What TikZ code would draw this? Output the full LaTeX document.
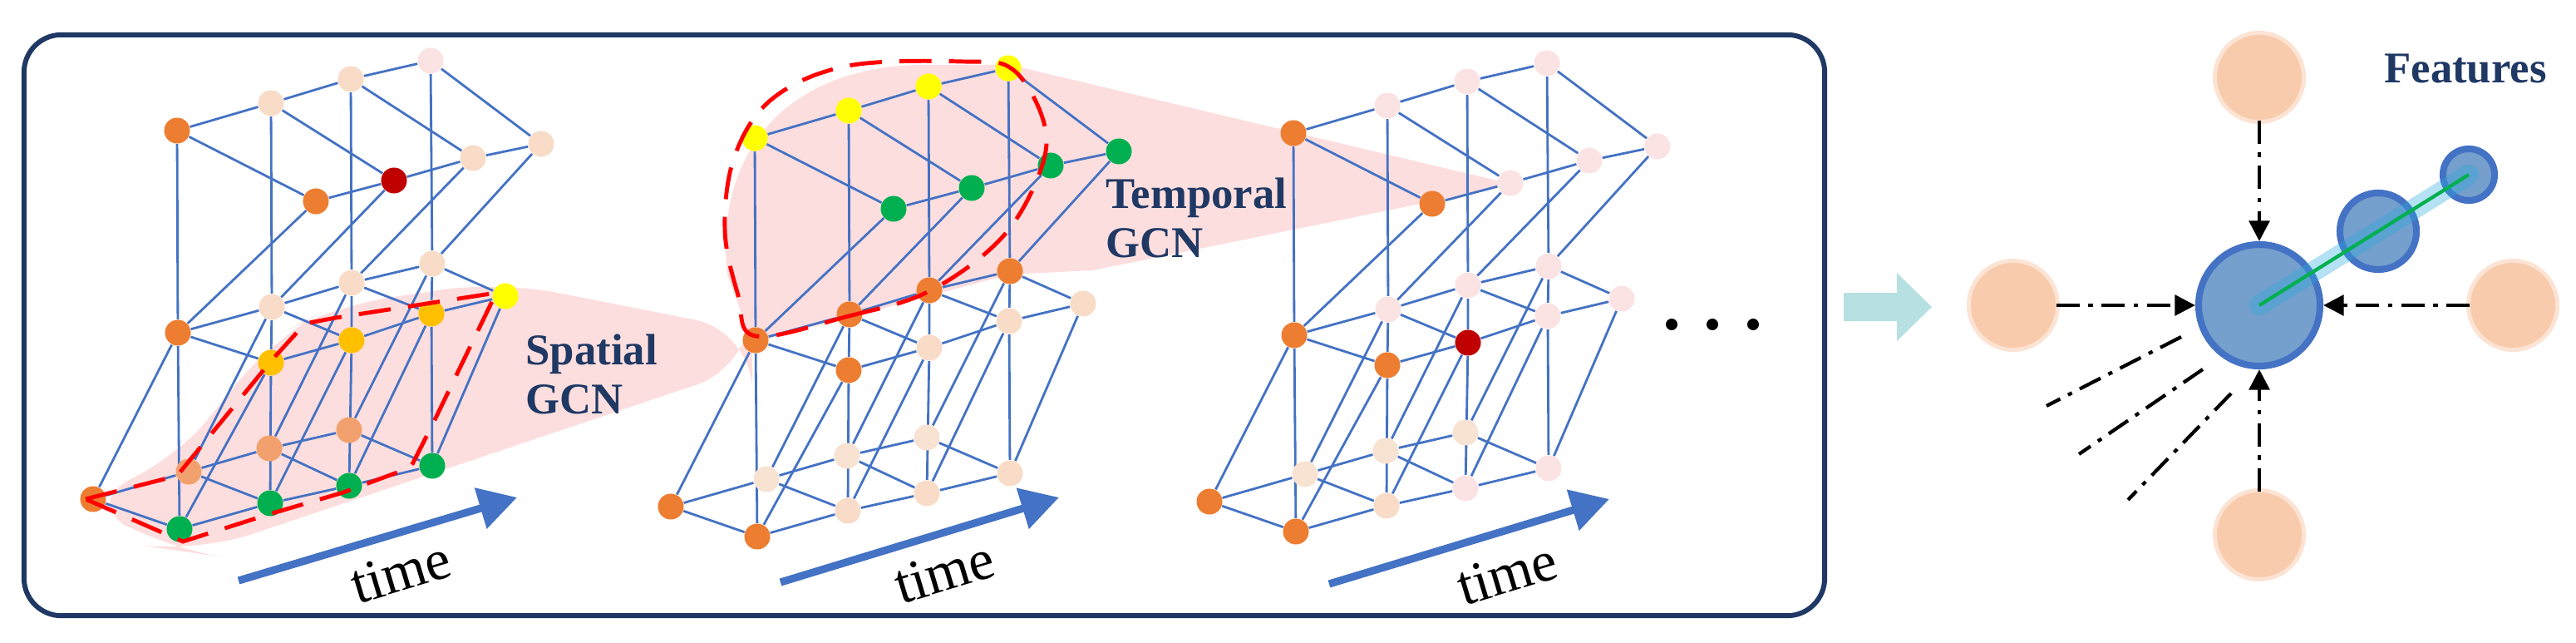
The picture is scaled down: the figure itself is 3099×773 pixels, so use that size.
\documentclass[tikz,border=0pt]{standalone}
\usepackage{fontspec}
\setmainfont{Liberation Serif}[BoldFont={Liberation Serif Bold}]
\usetikzlibrary{arrows.meta,backgrounds}
\definecolor{co}{HTML}{ED7D31}
\definecolor{cp}{HTML}{F8DCC8}
\definecolor{ck}{HTML}{FBE3E3}
\definecolor{cr}{HTML}{C00000}
\definecolor{cy}{HTML}{FFFF00}
\definecolor{cg}{HTML}{FFC000}
\definecolor{cG}{HTML}{00B050}
\definecolor{cf}{HTML}{F2A16E}
\definecolor{cq}{HTML}{F8E2D2}
\definecolor{edge}{HTML}{4472C4}
\definecolor{navy}{HTML}{1F3864}
\definecolor{pinkbg}{HTML}{FDDEDE}
\definecolor{peachc}{HTML}{F8CBAD}
\definecolor{peachglow}{HTML}{FCE3D3}
\definecolor{bluefill}{HTML}{759FCC}
\definecolor{cyanarr}{HTML}{B7E0E2}
\tikzset{
  nd/.style={circle,inner sep=0pt,minimum size=0.31cm,draw=none},
  ed/.style={draw=edge,line width=0.8pt},
  rdash/.style={draw=red,line width=1.4pt,dash pattern=on 11pt off 6pt},
  timearr/.style={draw=edge,line width=2.6pt,-{Triangle[length=13pt,width=14pt]}},
  lab/.style={font=\bfseries\fontsize{15}{17}\selectfont,text=navy,align=left,anchor=west},
  tlab/.style={font=\fontsize{19.5}{22}\selectfont,rotate=16.7},
  feat/.style={circle,fill=peachc,inner sep=0pt,minimum size=1.02cm},
  glow/.style={circle,fill=peachglow,inner sep=0pt,minimum size=1.12cm},
  fa/.style={draw=black,line width=1.2pt,dash pattern=on 8pt off 3pt on 1.5pt off 3pt,-{Triangle[length=7pt,width=7pt]}},
  fl/.style={draw=black,line width=1.2pt,dash pattern=on 8pt off 3pt on 1.5pt off 3pt},
}
\newcommand{\stgraph}[4]{%
  \foreach \n/\x/\y [count=\i from 0] in {tB1/213/157,tB2/326/124,tB3/422/95,tB4/518/73,
     tF1/380/242,tF2/474/217,tF3/569/190,tF4/651/173,
     mB1/214/400,mB2/327/369,mB3/423/340,mB4/520/317,
     mF1/326/436,mF2/423/409,mF3/519/377,mF4/608/356,
     bB1/112/600,bB2/227/567,bB3/324/539,bB4/420/517,
     bF1/216/636,bF2/325/605,bF3/420/584,bF4/520/560}{%
    \pgfmathparse{{#4}[\i]}\let\cc\pgfmathresult
    \node[nd,fill=c\cc] (#1\n) at (\x+#2,\y+#3) {};
  }
  \begin{scope}[on background layer]
  \foreach \l in {t,m,b}{
    \draw[ed] (#1\l B1)--(#1\l B2)--(#1\l B3)--(#1\l B4);
    \draw[ed] (#1\l F1)--(#1\l F2)--(#1\l F3)--(#1\l F4);
    \foreach \k in {1,2,3,4}{\draw[ed] (#1\l B\k)--(#1\l F\k);}
  }
  \foreach \k in {1,2,3,4}{
    \draw[ed] (#1tB\k)--(#1mB\k);
    \draw[ed] (#1tF\k)--(#1mB\k);
    \draw[ed] (#1mB\k)--(#1bB\k);
    \draw[ed] (#1mF\k)--(#1bF\k);
  }
  \draw[ed] (#1mB1)--(#1bF1);
  \draw[ed] (#1mB2)--(#1mF1)--(#1bF2);
  \draw[ed] (#1mB3)--(#1mF2)--(#1bF3);
  \draw[ed] (#1mB4)--(#1mF3)--(#1bF4);
  \end{scope}
}
\begin{document}
\begin{tikzpicture}[x=0.01cm,y=-0.01cm]
\useasboundingbox (0,0) rectangle (3099,773);
% pink regions
\begin{scope}[on background layer]
\fill[pinkbg,rounded corners=20] (95,600) -- (205,560) -- (330,405) -- (400,368) -- (600,338) -- (905,398) -- (905,440) -- (235,665) -- (200,660) -- cycle;
\fill[pinkbg] (905,412) -- (875,330) .. controls (860,200) and (930,85) .. (1100,78) -- (1215,78) -- (1822,222) -- (1315,325) -- (1214,330) -- (1020,382) -- cycle;
\end{scope}
% box
\node[draw=navy,line width=1.7pt,rounded corners=0.45cm,minimum width=21.65cm,minimum height=6.98cm,inner sep=0pt] (box) at (1112,391) {};
% graphs
\stgraph{a}{0}{0}{"o","p","p","k","o","r","p","p","o","p","p","p","g","g","g","y","o","f","f","f","G","G","G","G"}
\stgraph{b}{695}{9}{"y","y","y","y","G","G","G","G","o","o","o","o","o","p","p","p","o","q","q","q","o","p","p","p"}
\stgraph{c}{1343}{3}{"o","k","k","k","o","k","k","k","o","k","k","k","o","r","k","k","o","q","q","q","o","p","k","k"}
% dashed loops
\draw[rdash] (103,600) -- (213,572) -- (326,434) -- (367,389) -- (404,382) -- (597,352) -- (519,513) -- (494,562) -- (413,592) -- (321,619) -- (220,651) -- cycle;
\draw[rdash] plot[smooth cycle,tension=0.6] coordinates {(909,404) (1021,380) (1118,350) (1205,286) (1251,207) (1256,148) (1219,84) (1159,74) (1021,79) (930,118) (884,187) (872,276) (888,355)};
% labels
\node[lab] (sp) at (620,450) {Spatial\\GCN};
\node[lab] (tp) at (1318,262) {Temporal\\GCN};
% time arrows
\coordinate (t1a) at (287,698); \coordinate (t1b) at (622,598);
\coordinate (t2a) at (939,700); \coordinate (t2b) at (1274,598);
\coordinate (t3a) at (1599,702); \coordinate (t3b) at (1936,600);
\draw[timearr] (t1a) -- (t1b);
\draw[timearr] (t2a) -- (t2b);
\draw[timearr] (t3a) -- (t3b);
\node[tlab] (tt1) at (482,688) {time};
\node[tlab] (tt2) at (1136,688) {time};
\node[tlab] (tt3) at (1813,690) {time};
% dots
\foreach \x [count=\i] in {2011,2060,2109}{\node[circle,fill=black,inner sep=0pt,minimum size=0.14cm] (dot\i) at (\x,390) {};}
% cyan arrow
\fill[cyanarr] (2218,352) -- (2282,352) -- (2282,328) -- (2324,369) -- (2282,410) -- (2282,386) -- (2218,386) -- cycle;
% right part
\foreach \n/\x/\y in {ft/2718/93,fl/2422/367,fr/3023/367,fb/2718/643}{
  \node[glow] at (\x,\y) {};
  \node[feat] (\n) at (\x,\y) {};
}
\node[circle,draw=edge,fill=bluefill,line width=2.3pt,minimum size=1.46cm,inner sep=0pt] (cen) at (2718,367) {};
\node[circle,draw=edge,fill=bluefill,line width=2.3pt,minimum size=0.92cm,inner sep=0pt] (mid) at (2861,278) {};
\node[circle,draw=edge,fill=bluefill,line width=2.3pt,minimum size=0.62cm,inner sep=0pt] (sml) at (2970,210) {};
\draw[edge!60!cyan,opacity=0.35,line width=7pt,line cap=round] (cen.center) -- (sml.center);
\draw[cG,line width=1.2pt] (cen.center) -- (sml.center);
\draw[fa] (ft) -- (cen);
\draw[fa] (fb) -- (cen);
\draw[fa] (fl) -- (cen);
\draw[fa] (fr) -- (cen);
\coordinate (e1a) at (2624,405); \coordinate (e1b) at (2462,488);
\coordinate (e2a) at (2650,444); \coordinate (e2b) at (2501,546);
\coordinate (e3a) at (2684,473); \coordinate (e3b) at (2560,601);
\draw[fl] (e1a) -- (e1b);
\draw[fl] (e2a) -- (e2b);
\draw[fl] (e3a) -- (e3b);
\node[font=\bfseries\fontsize{15}{17}\selectfont,text=navy] (feattxt) at (2966,83) {Features};
\end{tikzpicture}
\end{document}
